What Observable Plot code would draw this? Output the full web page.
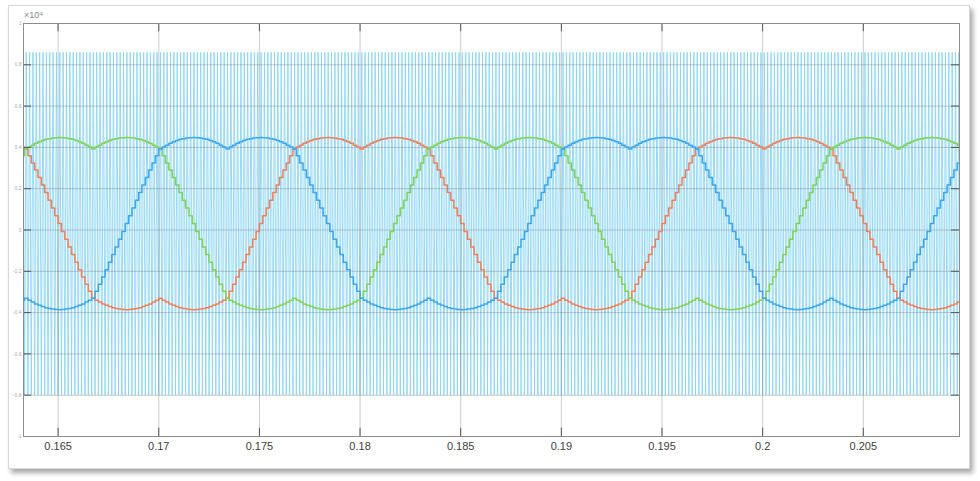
<!DOCTYPE html>
<html>
<head>
<meta charset="utf-8">
<script src="https://cdn.jsdelivr.net/npm/d3@7"></script>
<script src="https://cdn.jsdelivr.net/npm/@observablehq/plot@0.6"></script>
<style>
  html, body { margin: 0; padding: 0; background: #ffffff; }
  #wrap { position: relative; width: 980px; height: 481px; overflow: hidden; font-family: "Liberation Sans", Arial, sans-serif; }
  #panel { position: absolute; left: 8px; top: 5px; width: 960px; height: 462px; background: #fff;
           border: 1px solid #d8d8d8; box-shadow: 3px 4px 5px rgba(0,0,0,0.35); }
  #chart { position: absolute; left: 0; top: 0; }
  #exp { position: absolute; left: 24px; top: 10px; font-size: 9px; color: #8a8a8a; }
</style>
</head>
<body>
<div id="wrap">
  <div id="panel"></div>
  <div id="chart"></div>
  <div id="exp">×10⁴</div>
</div>
<script>
// x axis ticks (seconds)
const xTicks = [0.165, 0.17, 0.175, 0.18, 0.185, 0.19, 0.195, 0.2, 0.205];
const xDomain = [0.16328, 0.20978];
// y axis ticks (×10^4)
const yTicks = [-1, -0.8, -0.6, -0.4, -0.2, 0, 0.2, 0.4, 0.6, 0.8, 1];
const yDomain = [-1, 1];

// carrier (triangle) levels and frequency
const carrierLow = -0.80;
const carrierHigh = 0.86;
const carrierFreq = 6000;       // Hz
const startTime = 0.16;         // s
const sampleCount = 300;        // carrier periods shown

// one fundamental period (120 carrier samples) of the stepped modulating wave
const profile = [
  0.392,
  0.402, 0.411, 0.420, 0.427, 0.433, 0.439, 0.442, 0.445, 0.447, 0.448,
  0.447, 0.445, 0.442, 0.439, 0.433, 0.427, 0.420, 0.411, 0.402, 0.392,
  0.359, 0.325, 0.290, 0.254, 0.218, 0.181, 0.144, 0.106, 0.069, 0.031,
  -0.007, -0.045, -0.082, -0.119, -0.156, -0.192, -0.228, -0.263, -0.297,
  -0.330,
  -0.340, -0.349, -0.358, -0.365, -0.371, -0.377, -0.380, -0.383, -0.385, -0.386,
  -0.385, -0.383, -0.380, -0.377, -0.371, -0.365, -0.358, -0.349, -0.340, -0.330,
  -0.340, -0.349, -0.358, -0.365, -0.371, -0.377, -0.380, -0.383, -0.385, -0.386,
  -0.385, -0.383, -0.380, -0.377, -0.371, -0.365, -0.358, -0.349, -0.340, -0.330,
  -0.297, -0.263, -0.228, -0.192, -0.156, -0.119, -0.082, -0.045, -0.007, 0.031,
  0.069, 0.106, 0.144, 0.181, 0.218, 0.254, 0.290, 0.325, 0.359,
  0.392,
  0.402, 0.411, 0.420, 0.427, 0.433, 0.439, 0.442, 0.445, 0.447, 0.448,
  0.447, 0.445, 0.442, 0.439, 0.433, 0.427, 0.420, 0.411, 0.402
];
// phase offsets (in samples) of each trace relative to the profile
const phaseNames = ["red", "green", "blue"];
const phaseShift = [0, 80, 40];
const phaseColors = ["#f47f56", "#7fd451", "#3aa6f0"];

// build tables
const carrier = [];
for (let j = 0; j <= 2 * sampleCount; j++) {
  carrier.push({t: startTime + j / (2 * carrierFreq), v: j % 2 ? carrierHigh : carrierLow});
}
const traces = phaseNames.map((name, p) => {
  const rows = [];
  for (let i = 0; i <= sampleCount; i++) {
    rows.push({t: startTime + i / carrierFreq, v: profile[(i + phaseShift[p]) % profile.length]});
  }
  return rows;
});

const inX = 0.0004;   // inward tick length in x units
const inY = 0.04;     // inward tick length in y units

const chart = Plot.plot({
  width: 980,
  height: 481,
  marginLeft: 23,
  marginRight: 21,
  marginTop: 23,
  marginBottom: 45,
  style: {background: "transparent", fontFamily: "'Liberation Sans', Arial, sans-serif"},
  x: {domain: xDomain, label: null},
  y: {domain: yDomain, label: null},
  marks: [
    Plot.line(carrier, {x: "t", y: "v", stroke: "#8ad5f5", strokeWidth: 0.9, clip: true}),
    Plot.gridX(xTicks, {stroke: "#6e6e6e", strokeOpacity: 0.35}),
    Plot.gridY(yTicks, {stroke: "#6e6e6e", strokeOpacity: 0.35}),
    ...traces.map((rows, p) => Plot.line(rows, {x: "t", y: "v", stroke: phaseColors[p], strokeWidth: 1.5, curve: "step-after", clip: true})),
    Plot.ruleX(xTicks, {x: d => d, y1: yDomain[0], y2: yDomain[0] + inY, stroke: "#555"}),
    Plot.ruleX(xTicks, {x: d => d, y1: yDomain[1], y2: yDomain[1] - inY, stroke: "#555"}),
    Plot.ruleY(yTicks, {y: d => d, x1: xDomain[0], x2: xDomain[0] + inX, stroke: "#555"}),
    Plot.ruleY(yTicks, {y: d => d, x1: xDomain[1], x2: xDomain[1] - inX, stroke: "#555"}),
    Plot.frame({stroke: "#8c8c8c"}),
    Plot.axisX(xTicks, {tickSize: 0, tickPadding: 6, fontSize: 11, fill: "#404040", tickFormat: d => String(+d.toFixed(3))}),
    Plot.axisY(yTicks, {tickSize: 0, tickPadding: 2, fontSize: 5, fill: "#aaaaaa", tickFormat: d => String(+d.toFixed(1))})
  ]
});
document.getElementById("chart").appendChild(chart);
</script>
</body>
</html>
